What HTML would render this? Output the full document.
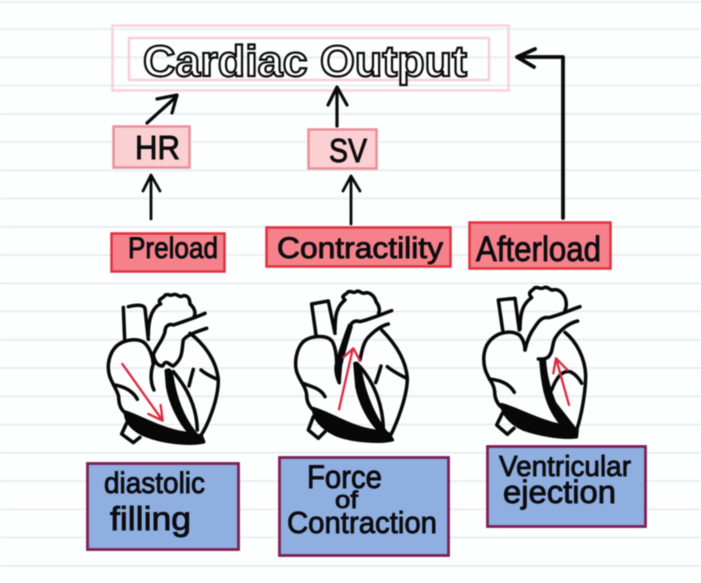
<!DOCTYPE html>
<html><head><meta charset="utf-8"><style>
html,body{margin:0;padding:0;background:#fdfefe}
svg{display:block;filter:blur(.4px)}
text{font-family:"Liberation Sans",sans-serif;fill:#0c0c10;stroke:#0c0c10;stroke-width:.9}
.l{stroke:#e2ecf0;stroke-width:1.6}
.a{fill:none;stroke:#0a0a0a;stroke-linecap:round;stroke-linejoin:round}
.h{fill:none;stroke:#080808;stroke-width:10.5;stroke-linecap:round;stroke-linejoin:round}
.f{fill:#080808;stroke:#080808;stroke-width:9;stroke-linejoin:round}
.r{fill:none;stroke:#d92c42;stroke-width:7;stroke-linecap:round;stroke-linejoin:round}
</style></head><body>
<svg width="701" height="583" viewBox="0 0 701 583" xmlns="http://www.w3.org/2000/svg">
<rect width="701" height="583" fill="#fdfefe"/>
<g class="l"><path d="M0 2H701M0 29H701M0 57.3H701M0 85.5H701M0 113.8H701M0 142H701M0 170.3H701M0 198.5H701M0 226.8H701M0 255H701M0 283.3H701M0 311.5H701M0 339.8H701M0 368H701M0 396.3H701M0 424.5H701M0 452.8H701M0 481H701M0 509.3H701M0 537.5H701M0 565.8H701"/></g>

<rect x="112.5" y="25.5" width="396" height="65" fill="none" stroke="#f8d3d7" stroke-width="2.5"/>
<rect x="129" y="38" width="360" height="42" fill="none" stroke="#f8cfd4" stroke-width="2.5"/>
<text x="143" y="76" font-size="44" font-weight="700" textLength="324" lengthAdjust="spacingAndGlyphs" style="fill:#fff;stroke:#0a0a0a;stroke-width:2.2">Cardiac Output</text>

<rect x="113.5" y="126.5" width="76" height="41" fill="#fbd0d3" stroke="#ea8f9a" stroke-width="2.5"/>
<text x="135" y="159" font-size="33" textLength="45" lengthAdjust="spacingAndGlyphs">HR</text>
<rect x="308.5" y="129.5" width="68" height="39" fill="#fbd0d3" stroke="#ea8f9a" stroke-width="2.5"/>
<text x="329" y="162" font-size="33" textLength="38" lengthAdjust="spacingAndGlyphs">SV</text>

<rect x="111.5" y="233.5" width="113" height="38" fill="#f5828b" stroke="#e0303f" stroke-width="2.5"/>
<text x="128" y="258" font-size="30" textLength="90" lengthAdjust="spacingAndGlyphs">Preload</text>
<rect x="266.5" y="227.5" width="184" height="39" fill="#f5828b" stroke="#e0303f" stroke-width="2.5"/>
<text x="277" y="258" font-size="30" textLength="166" lengthAdjust="spacingAndGlyphs">Contractility</text>
<rect x="469.5" y="222.5" width="141" height="46" fill="#f5828b" stroke="#e0303f" stroke-width="2.5"/>
<text x="476" y="261" font-size="35" textLength="125" lengthAdjust="spacingAndGlyphs">Afterload</text>

<g class="a" stroke-width="3.2"><path d="M147 123L177 96M157 99L177 95L172 113"/><path d="M337 126V88M328 105L337 87L347 105"/></g>
<g class="a" stroke-width="2.8"><path d="M151 219V177M143 191L151 175L160 191"/><path d="M351 224V178M343 191L351 176L360 191"/></g>
<path class="a" stroke-width="3.8" d="M563 218V57H518M535 49L517 57L534 67"/>

<!-- heart 1 -->
<g transform="translate(90,280) scale(.3333)">
<path class="h" d="M100 82L104 178M115 80C135 75 160 72 165 85L175 178"/>
<path class="h" d="M78 200C100 178 145 172 165 190C180 205 188 230 190 252C180 280 182 310 192 330"/>
<path class="h" d="M78 200C58 220 50 255 58 285C65 310 82 330 86 350C86 370 92 388 105 398"/>
<path class="h" d="M75 315C105 320 130 335 142 358"/>
<path class="h" d="M175 165C175 110 190 80 212 72C200 55 218 58 226 45C236 40 240 50 250 44C262 38 266 56 280 47C295 45 300 60 300 72C315 85 318 100 312 110"/>
<path class="h" d="M345 100C310 115 280 125 250 135C235 130 225 140 225 155C220 180 195 205 190 225C195 250 205 258 218 258C230 235 235 255 250 258C280 235 275 210 280 180C290 165 320 155 350 145"/>
<path class="h" d="M300 160C340 190 380 240 385 300C385 360 352 440 330 470"/>
<path class="f" d="M228 272C240 264 245 275 250 310C260 360 280 420 325 470L300 460C270 430 240 370 232 320Z"/>
<path class="h" d="M250 275C280 310 320 370 322 450M310 268C305 285 300 305 297 318M333 270C350 285 365 290 380 297"/>
<path class="f" d="M105 395C150 410 220 450 280 458L335 468L342 486C300 496 220 488 170 468C130 453 105 425 105 395Z"/>
<path class="h" d="M112 425L95 462L130 488L150 472"/>
<path class="r" d="M97 252L218 422M175 402L218 422L212 375"/>
</g>

<!-- heart 2 -->
<g transform="translate(280,280) scale(.3333)">
<path class="h" d="M95 72L108 165M95 72L145 63L165 160"/>
<path class="h" d="M70 185C95 165 140 165 155 182C165 195 170 225 170 250C165 270 170 290 178 308"/>
<path class="h" d="M70 185C50 205 42 245 50 275C60 305 78 320 80 345C80 365 88 380 100 390"/>
<path class="h" d="M68 310C95 320 122 325 135 350"/>
<path class="h" d="M165 150C165 105 170 80 195 60C180 45 195 48 205 35C215 32 220 42 230 34C240 30 245 45 258 38C272 38 285 50 288 65C298 78 300 90 296 100"/>
<path class="h" d="M335 92C300 105 270 118 240 125C225 120 215 125 210 140C200 170 195 190 190 205M325 132C300 138 280 155 262 175C250 190 245 215 240 240"/>
<path class="f" d="M208 135L214 140C205 170 190 220 182 258L178 308C172 280 170 250 180 215C188 190 198 160 208 135Z"/>
<path class="h" d="M305 150C345 190 378 240 382 295C382 350 350 430 330 470"/>
<path class="f" d="M224 250C236 245 240 262 245 290C255 340 280 410 325 465L300 455C265 420 240 370 230 320Z"/>
<path class="h" d="M240 260C270 295 305 350 310 440M303 258C298 275 292 295 287 308M322 260C340 275 360 285 380 295"/>
<path class="f" d="M100 385C150 400 210 440 270 450L325 460L338 480C300 490 210 483 165 463C125 445 100 415 100 385Z"/>
<path class="h" d="M100 410L85 450L115 475L135 455"/>
<path class="r" d="M177 388L218 208M190 232L220 205L240 242"/>
</g>

<!-- heart 3 -->
<g transform="translate(470,275) scale(.3333)">
<path class="h" d="M85 75L98 165M85 75L135 70L148 165"/>
<path class="h" d="M62 195C85 170 125 165 148 180C160 192 165 212 165 225"/>
<path class="h" d="M62 195C42 215 36 250 46 285C56 315 72 325 74 350C74 370 82 385 92 395"/>
<path class="h" d="M58 312C90 315 118 325 133 352"/>
<path class="h" d="M150 162C150 110 160 85 185 68C170 50 185 50 195 38C205 35 212 45 222 38C235 32 240 50 252 44C270 42 285 60 288 78C290 90 288 100 285 105"/>
<path class="h" d="M330 95C300 105 265 122 235 128C215 125 205 140 195 155C180 175 170 200 165 225"/>
<path class="h" d="M323 138C295 145 270 165 255 190C245 210 250 235 232 248C220 255 212 252 205 252"/>
<path class="h" d="M285 172C320 200 345 250 347 300C347 350 335 420 320 465"/>
<path class="f" d="M212 255L224 255C226 300 240 350 255 385L320 468L285 460C255 430 235 390 225 350C218 320 214 285 212 255Z"/>
<path class="h" d="M245 345C258 310 275 285 300 290C318 298 330 315 335 325"/>
<path class="f" d="M94 388C140 400 200 435 260 448L322 465L320 486C270 492 205 478 160 463C120 445 97 415 94 388Z"/>
<path class="h" d="M97 415L80 450L112 478L132 460"/>
<path class="r" d="M297 390L258 250M250 295L258 250L292 285"/>
</g>

<rect x="87.5" y="463.5" width="151" height="86" fill="#8fafe0" stroke="#7b1f55" stroke-width="2.8"/>
<rect x="279.5" y="457.5" width="169" height="98" fill="#8fafe0" stroke="#7b1f55" stroke-width="2.8"/>
<rect x="487.5" y="446.5" width="158" height="80" fill="#8fafe0" stroke="#7b1f55" stroke-width="2.8"/>
<text x="104" y="493" font-size="30" textLength="101" lengthAdjust="spacingAndGlyphs">diastolic</text>
<text x="110" y="530" font-size="33" textLength="81" lengthAdjust="spacingAndGlyphs">filling</text>
<text x="307" y="488" font-size="32" textLength="75" lengthAdjust="spacingAndGlyphs">Force</text>
<text x="335" y="508" font-size="24" textLength="23" lengthAdjust="spacingAndGlyphs">of</text>
<text x="287" y="533" font-size="31" textLength="150" lengthAdjust="spacingAndGlyphs">Contraction</text>
<text x="499" y="476" font-size="29" textLength="132" lengthAdjust="spacingAndGlyphs">Ventricular</text>
<text x="503" y="503" font-size="32" textLength="113" lengthAdjust="spacingAndGlyphs">ejection</text>
</svg>
</body></html>
